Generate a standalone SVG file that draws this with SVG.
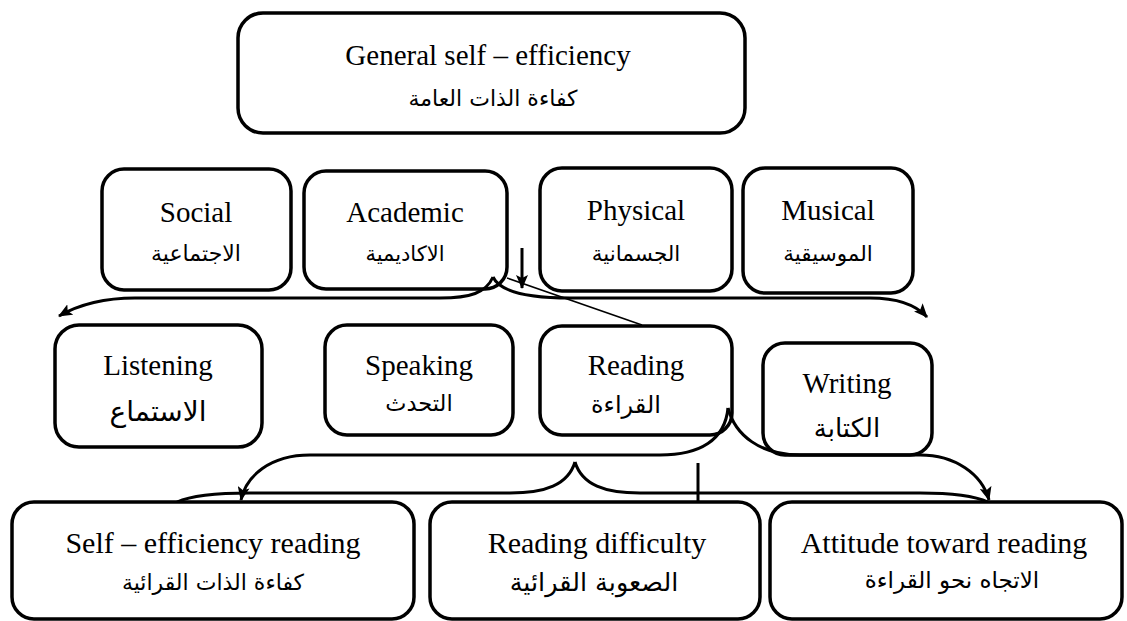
<svg xmlns="http://www.w3.org/2000/svg" width="1127" height="621" viewBox="0 0 1127 621">
<defs>
<marker id="ah" viewBox="0 0 14 12" refX="13" refY="6" markerWidth="14" markerHeight="12" markerUnits="userSpaceOnUse" orient="auto">
<path d="M0,0 L14,6 L0,12 L3,6 Z" fill="#000"/>
</marker>
</defs>
<style>
.box{fill:#fff;stroke:#000;stroke-width:3.5}
.en{font-family:"Liberation Serif","Times New Roman",serif;fill:#000;text-anchor:middle}
.ar{font-family:"DejaVu Sans","Liberation Sans",sans-serif;fill:#000;text-anchor:middle}
.c{fill:none;stroke:#000;stroke-width:3}
.thin{fill:none;stroke:#000;stroke-width:1.5}
</style>
<rect width="1127" height="621" fill="#fff"/>
<g id="general">
<rect class="box" x="238" y="13" width="507" height="120" rx="25"/>
<text class="en" x="488" y="65" font-size="29">General self – efficiency</text>
<text class="ar" x="493" y="106" font-size="22" direction="rtl">كفاءة الذات العامة</text>
</g>
<g id="social">
<rect class="box" x="102" y="169" width="189" height="121" rx="22"/>
<text class="en" x="196" y="222" font-size="29">Social</text>
<text class="ar" x="196" y="261" font-size="22" direction="rtl">الاجتماعية</text>
</g>
<g id="academic">
<rect class="box" x="304" y="171" width="203" height="118" rx="22"/>
<text class="en" x="405" y="222" font-size="29">Academic</text>
<text class="ar" x="405" y="261" font-size="21" direction="rtl">الاكاديمية</text>
</g>
<g id="physical">
<rect class="box" x="540" y="168" width="192" height="123" rx="22"/>
<text class="en" x="636" y="220" font-size="29">Physical</text>
<text class="ar" x="636" y="261" font-size="21.5" direction="rtl">الجسمانية</text>
</g>
<g id="musical">
<rect class="box" x="743" y="168" width="170" height="125" rx="22"/>
<text class="en" x="828" y="220" font-size="29">Musical</text>
<text class="ar" x="828" y="261" font-size="21.5" direction="rtl">الموسيقية</text>
</g>
<g id="listening">
<rect class="box" x="55" y="325" width="207" height="122" rx="24"/>
<text class="en" x="158" y="375" font-size="29">Listening</text>
<text class="ar" x="158" y="421" font-size="28" direction="rtl">الاستماع</text>
</g>
<g id="speaking">
<rect class="box" x="325" y="325" width="188" height="110" rx="22"/>
<text class="en" x="419" y="375" font-size="29">Speaking</text>
<text class="ar" x="419" y="411" font-size="22.5" direction="rtl">التحدث</text>
</g>
<g id="reading">
<rect class="box" x="540" y="326" width="192" height="109" rx="22"/>
<text class="en" x="636" y="375" font-size="29">Reading</text>
<text class="ar" x="626" y="413" font-size="24" direction="rtl">القراءة</text>
</g>
<g id="writing">
<rect class="box" x="763" y="343" width="169" height="112" rx="22"/>
<text class="en" x="847" y="393" font-size="29">Writing</text>
<text class="ar" x="847" y="437" font-size="26" direction="rtl">الكتابة</text>
</g>
<g id="connectors">
<path class="c" d="M493,277 C486,293 470,298 440,298 L135,298 C105,298 80,304 59,316" marker-end="url(#ah)"/>
<path class="c" d="M493,277 C500,292 530,298 570,298 L870,298 C898,298 916,305 927,317" marker-end="url(#ah)"/>
<path class="c" d="M522,248 L522,288" marker-end="url(#ah)"/>
<path class="thin" d="M507,278 L642,325"/>
<path class="c" d="M728,408 C725,440 700,455 660,455 L310,455 C270,455 246,476 241,500" marker-end="url(#ah)"/>
<path class="c" d="M728,408 C735,435 760,455 800,455 L920,455 C955,455 982,474 989,500" marker-end="url(#ah)"/>
<path class="c" d="M575,462 C568,485 545,493 510,493 L250,493 C210,493 190,496 177,502"/>
<path class="c" d="M575,462 C582,485 605,493 640,493 L920,493 C955,493 975,496 988,502"/>
<path class="c" d="M698,463 L698,502"/>
</g>
<g id="self_eff_reading">
<rect class="box" x="12" y="502" width="402" height="117" rx="22"/>
<text class="en" x="213" y="553" font-size="30">Self – efficiency reading</text>
<text class="ar" x="213" y="590" font-size="22" direction="rtl">كفاءة الذات القرائية</text>
</g>
<g id="reading_difficulty">
<rect class="box" x="430" y="502" width="330" height="117" rx="22"/>
<text class="en" x="597" y="553" font-size="30">Reading difficulty</text>
<text class="ar" x="594" y="591" font-size="25.5" direction="rtl">الصعوبة القرائية</text>
</g>
<g id="attitude">
<rect class="box" x="770" y="502" width="352" height="117" rx="22"/>
<text class="en" x="944" y="553" font-size="30">Attitude toward reading</text>
<text class="ar" x="952" y="588" font-size="23" direction="rtl">الاتجاه نحو القراءة</text>
</g>
</svg>
